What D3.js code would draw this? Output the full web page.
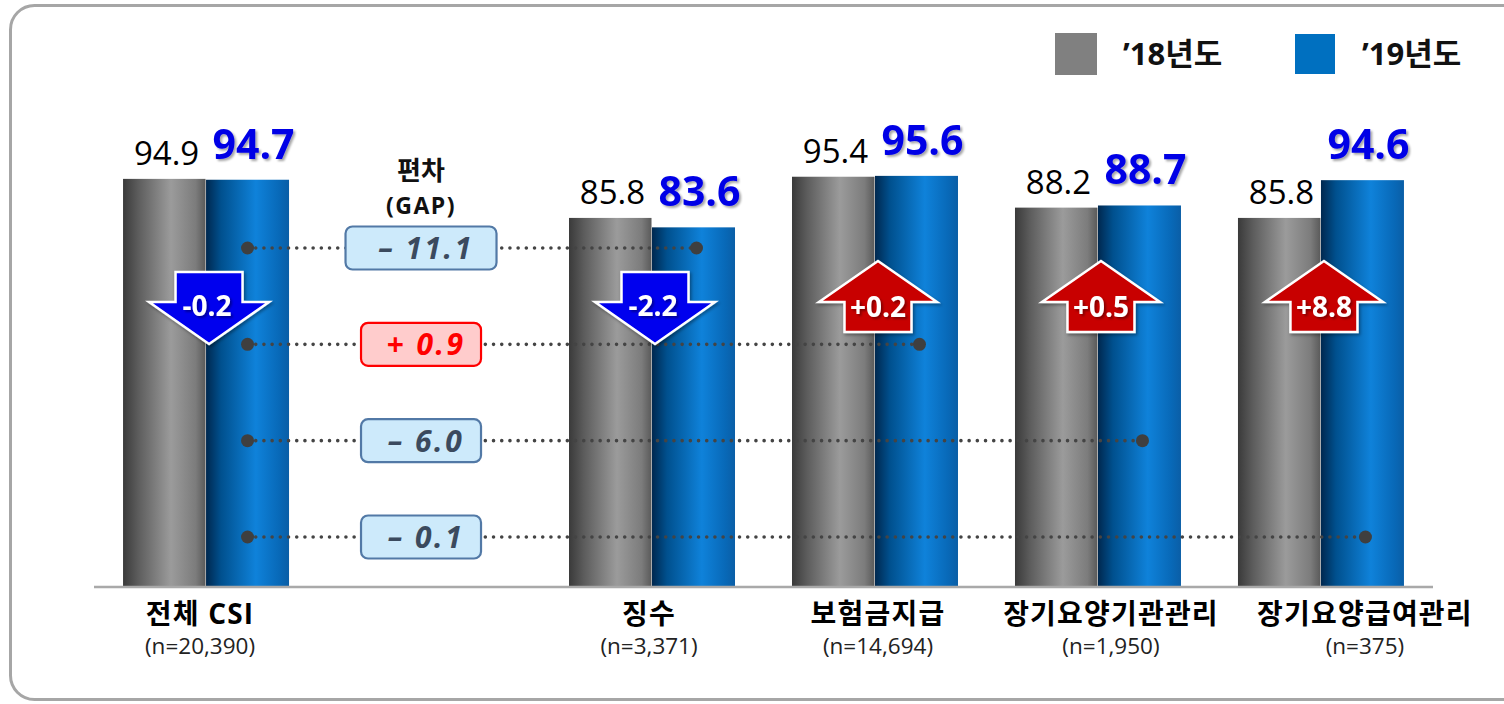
<!DOCTYPE html>
<html><head><meta charset="utf-8">
<script src="https://cdn.jsdelivr.net/npm/d3@7"></script>
<style>
html,body{margin:0;padding:0;background:#fff;}
svg{display:block;font-family:'Open Sans','Noto Sans CJK KR',sans-serif;}
</style></head>
<body><svg id="chart" width="1504" height="704"></svg>
<script>
// ---------- data ----------
const categories = ["전체 CSI", "징수", "보험금지급", "장기요양기관관리", "장기요양급여관리"];
const sampleSizes = ["(n=20,390)", "(n=3,371)", "(n=14,694)", "(n=1,950)", "(n=375)"];
const seriesNames = ["’18년도", "’19년도"];
const values2018 = [94.9, 85.8, 95.4, 88.2, 85.8];
const values2019 = [94.7, 83.6, 95.6, 88.7, 94.6];
const changes = [-0.2, -2.2, 0.2, 0.5, 8.8];
const gapTitle = ["편차", "(GAP)"];
const gapValues = [-11.1, 0.9, -6.0, -0.1];   // vs. 전체 CSI, for categories 2..5
const yDomain = [0, 100];

// ---------- layout ----------
const baseY = 586;
const svg = d3.select("#chart");
const defs = svg.append("defs");

const slots = [categories[0], "__gap__", ...categories.slice(1)];
const x = d3.scaleBand().domain(slots).range([94.5, 1432.5]).paddingInner(0.2556).paddingOuter(0.128);
const xs = d3.scaleBand().domain(seriesNames).range([0, x.bandwidth()]);
const y = d3.scaleLinear().domain(yDomain).range([baseY, baseY - 429]);
const colors = ["#808080", "#0070c0"];
const labelShift = [-6, -3, 3, 13, 44];
const f1 = d3.format(".1f");
const signed = v => (v > 0 ? "+" : v < 0 ? "-" : "") + f1(Math.abs(v));

function grad(id, stops) {
  const g = defs.append("linearGradient").attr("id", id).attr("x1", "0%").attr("x2", "100%").attr("y1", "0%").attr("y2", "0%");
  stops.forEach(s => g.append("stop").attr("offset", s[0]).attr("stop-color", s[1]));
}
grad("g0", [["0%", "#3a3a3a"], ["18%", "#5c5c5c"], ["58%", "#9b9b9b"], ["88%", "#7c7c7c"], ["100%", "#5a5a5a"]]);
grad("g1", [["0%", "#00284f"], ["18%", "#00508e"], ["60%", "#0f82da"], ["88%", "#0869b8"], ["100%", "#0a5ea6"]]);

const sh = defs.append("filter").attr("id", "tshadow").attr("x", "-20%").attr("y", "-20%").attr("width", "140%").attr("height", "140%");
sh.append("feDropShadow").attr("dx", 2).attr("dy", 2).attr("stdDeviation", 1.2).attr("flood-color", "#000").attr("flood-opacity", 0.35);
const sh2 = defs.append("filter").attr("id", "ashadow").attr("x", "-20%").attr("y", "-20%").attr("width", "140%").attr("height", "140%");
sh2.append("feDropShadow").attr("dx", 1.5).attr("dy", 2).attr("stdDeviation", 1.5).attr("flood-color", "#000").attr("flood-opacity", 0.35);

// frame
svg.append("rect").attr("x", 10.5).attr("y", 5.5).attr("width", 1560).attr("height", 694)
  .attr("rx", 24).attr("fill", "none").attr("stroke", "#a6a6a6").attr("stroke-width", 3);

// legend
const leg = svg.append("g");
seriesNames.forEach((s, i) => {
  const lx = 1055 + i * 240;
  leg.append("rect").attr("x", lx).attr("y", 33 + i).attr("width", 42 - i * 2).attr("height", 42 - i * 2).attr("fill", colors[i]);
  leg.append("text").attr("x", lx + 68 - i).attr("y", 65).attr("font-size", 31).attr("font-weight", 700)
    .attr("fill", "#111").text(s);
});

// bars
const rows = categories.map((c, i) => ({ c, i, v: [values2018[i], values2019[i]] }));
const g = svg.append("g");
rows.forEach(r => {
  const x0 = x(slots[r.i === 0 ? 0 : r.i + 1]);
  r.x0 = x0;
  r.v.forEach((v, k) => {
    g.append("rect").attr("x", x0 + xs(seriesNames[k])).attr("y", y(v))
      .attr("width", xs.bandwidth() - (k === 0 ? 0.5 : 0)).attr("height", y(0) - y(v))
      .attr("fill", `url(#g${k})`);
  });
  g.append("text").attr("x", x0 + xs(seriesNames[0]) + xs.bandwidth() / 2 + 2).attr("y", y(r.v[0]) - 14)
    .attr("text-anchor", "middle").attr("font-size", 33).attr("fill", "#000").text(f1(r.v[0]));
  g.append("text").attr("x", x0 + xs(seriesNames[1]) + xs.bandwidth() / 2 + 6).attr("y", y(r.v[1]) - 21)
    .attr("text-anchor", "middle").attr("font-size", 41).attr("font-weight", 700).attr("fill", "#0000e6")
    .attr("filter", "url(#tshadow)").text(f1(r.v[1]));
});

// baseline
svg.append("line").attr("x1", 94).attr("x2", 1433).attr("y1", baseY + 1).attr("y2", baseY + 1)
  .attr("stroke", "#a9a9a9").attr("stroke-width", 2.5);

// x labels
rows.forEach(r => {
  const cx = r.x0 + x.bandwidth() / 2 + labelShift[r.i];
  svg.append("text").attr("x", cx).attr("y", 624).attr("text-anchor", "middle").attr("font-size", 28)
    .attr("letter-spacing", 1.2).attr("font-weight", 700).attr("fill", "#000").text(r.c);
  svg.append("text").attr("x", cx).attr("y", 654).attr("text-anchor", "middle").attr("font-size", 22.5)
    .attr("fill", "#222").text(sampleSizes[r.i]);
});

// gap column
const gapCx = x("__gap__") + x.bandwidth() / 2 - 8;
svg.append("text").attr("x", gapCx).attr("y", 180).attr("text-anchor", "middle").attr("font-size", 26)
  .attr("font-weight", 700).attr("fill", "#111").text(gapTitle[0]);
svg.append("text").attr("x", gapCx).attr("y", 214).attr("text-anchor", "middle").attr("font-size", 23)
  .attr("letter-spacing", 1.5).attr("font-weight", 700).attr("fill", "#111").text(gapTitle[1]);

const gy = d3.scalePoint().domain(d3.range(gapValues.length)).range([248, 537]);
const blueCenter = i => rows[i].x0 + xs(seriesNames[1]) + xs.bandwidth() / 2;
const fmtGap = v => (v < 0 ? "– " : "+ ") + f1(Math.abs(v));
gapValues.forEach((v, i) => {
  const yy = gy(i);
  const xa = blueCenter(0), xb = blueCenter(i + 1) + 3;
  svg.append("line").attr("x1", xa).attr("x2", xb).attr("y1", yy).attr("y2", yy)
    .attr("stroke", "#444").attr("stroke-width", 3.6).attr("stroke-linecap", "round")
    .attr("stroke-dasharray", "0,8.2");
  svg.append("circle").attr("cx", xa).attr("cy", yy).attr("r", 6.5).attr("fill", "#3f3f3f");
  svg.append("circle").attr("cx", xb).attr("cy", yy).attr("r", 6.5).attr("fill", "#3f3f3f");
  const label = fmtGap(v);
  const bw = label.length > 5 ? 151 : 120;
  const pos = v > 0;
  svg.append("rect").attr("x", gapCx - bw / 2).attr("y", yy - 21.5).attr("width", bw).attr("height", 43)
    .attr("rx", 7).attr("fill", pos ? "#ffcccc" : "#cdeafb")
    .attr("stroke", pos ? "#ff0000" : "#5279a6").attr("stroke-width", 2.2);
  svg.append("text").attr("x", gapCx + 5).attr("y", yy + 11).attr("text-anchor", "middle")
    .attr("font-size", 30).attr("letter-spacing", 2.5).attr("font-weight", 700).attr("font-style", "italic")
    .attr("fill", pos ? "#ff0000" : "#3b4a5e").text(label);
});

// change arrows
rows.forEach(r => {
  const d = changes[r.i];
  const cx = r.x0 + x.bandwidth() / 2 + 3;
  let pts, ty;
  if (d < 0) {
    pts = [[cx - 33.5, 272], [cx + 33.5, 272], [cx + 33.5, 302], [cx + 60, 302], [cx, 344], [cx - 60, 302], [cx - 33.5, 302]];
    ty = 316;
  } else {
    pts = [[cx, 261], [cx + 59, 302], [cx + 33.5, 302], [cx + 33.5, 332], [cx - 33.5, 332], [cx - 33.5, 302], [cx - 59, 302]];
    ty = 317;
  }
  svg.append("path").attr("d", d3.line()(pts) + "Z")
    .attr("fill", d < 0 ? "#0000ee" : "#c80000").attr("stroke", "#fff").attr("stroke-width", 2.5)
    .attr("stroke-linejoin", "miter").attr("filter", "url(#ashadow)");
  svg.append("text").attr("x", cx - (d < 0 ? 2 : 0)).attr("y", ty).attr("text-anchor", "middle")
    .attr("font-size", 28).attr("font-weight", 700).attr("fill", "#fff").attr("filter", "url(#tshadow)")
    .text(signed(d));
});
</script></body></html>
